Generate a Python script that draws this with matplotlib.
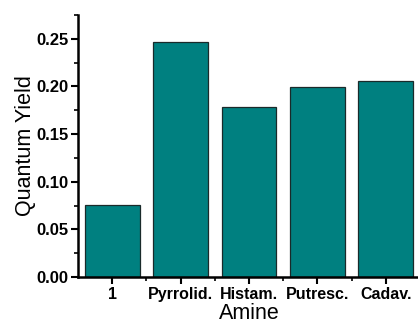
import matplotlib
matplotlib.use("Agg")
import matplotlib.pyplot as plt
from matplotlib.ticker import MultipleLocator, FixedLocator

# Quantum yield measured for each amine
amines = ["1", "Pyrrolid.", "Histam.", "Putresc.", "Cadav."]
quantum_yield = [0.076, 0.2465, 0.178, 0.1998, 0.2058]

plt.rcParams["font.family"] = ["Liberation Sans", "DejaVu Sans"]

fig = plt.figure(figsize=(4.18, 3.23), dpi=100)
ax = fig.add_axes([0.1866, 0.1424, 0.818, 0.811])

positions = list(range(1, len(amines) + 1))
ax.bar(positions, quantum_yield, width=0.8, color="#008080",
       edgecolor="#1a2a2a", linewidth=0.9)

ax.set_xlim(0.5, 5.5)
ax.set_ylim(0, 0.275)

ax.set_xticks(positions)
ax.set_xticklabels(amines, fontweight="bold", fontsize=11.5)
ax.xaxis.set_minor_locator(FixedLocator([1.5, 2.5, 3.5, 4.5]))
ax.yaxis.set_major_locator(MultipleLocator(0.05))
ax.yaxis.set_minor_locator(MultipleLocator(0.025))
ax.yaxis.set_major_formatter(plt.FormatStrFormatter("%.2f"))
for lbl in ax.get_yticklabels():
    lbl.set_fontweight("bold")
    lbl.set_fontsize(12)

ax.tick_params(which="major", direction="out", length=5, width=1.5, pad=2)
ax.tick_params(axis="x", which="major", pad=2)
ax.tick_params(which="minor", direction="out", length=3, width=1.2)

for side in ("top", "right"):
    ax.spines[side].set_visible(False)
for side in ("left", "bottom"):
    ax.spines[side].set_linewidth(1.8)

ax.set_ylabel("Quantum Yield", fontsize=15.5)
ax.yaxis.set_label_coords(-0.124, 0.5)
ax.set_xlabel("Amine", fontsize=15.5)
ax.xaxis.set_label_coords(0.5, -0.098)

fig.savefig("out.png", dpi=100)
